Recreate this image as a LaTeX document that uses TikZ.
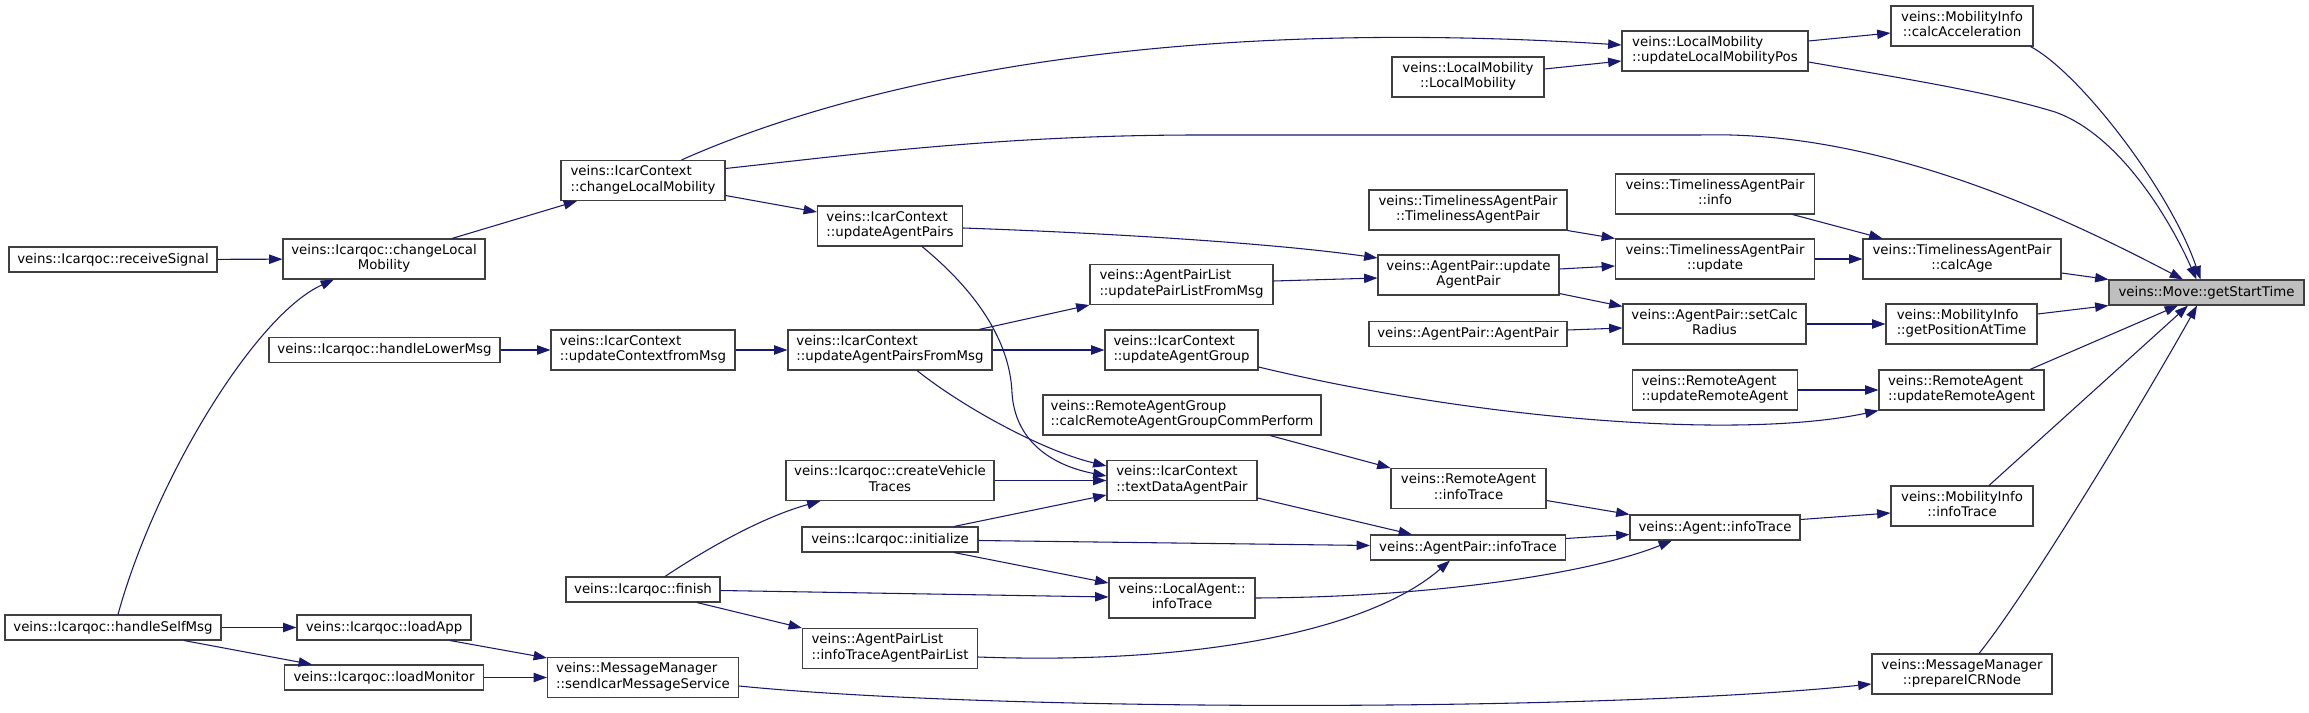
\documentclass[tikz,border=0pt]{standalone}
\usepackage{fontspec}
\newfontfamily\dvs{DejaVu Sans}
\usetikzlibrary{arrows.meta,calc}
\definecolor{edgeblue}{HTML}{191970}
\definecolor{boxgray}{HTML}{404040}
\definecolor{rootfill}{HTML}{BFBFBF}
\newcommand\Ctr[1]{\begin{tabular}{@{}c@{}}#1\end{tabular}}
\newcommand\Lft[1]{\begin{tabular}{@{}l@{}}#1\end{tabular}}
\begin{document}
\begin{tikzpicture}[x=0.75pt,y=-0.75pt,
  box/.style={draw=boxgray, line width=0.8pt, fill=white, inner sep=1pt,
    font=\dvs\fontsize{10pt}{11.5pt}\selectfont, minimum height=18.75pt},
  two/.style={minimum height=30pt},
  root/.style={fill=rootfill},
  edge/.style={draw=edgeblue, line width=0.8pt, -{Triangle[length=10pt,width=7pt]}}]
\useasboundingbox (0,0) rectangle (2309,713);
\fill[white] (0,0) rectangle (2309,713);

% column 1
\node[box, minimum width=156pt] (rs) at (113,259.5) {veins::Icarqoc::receiveSignal};
\node[box, minimum width=162pt] (hsm) at (113,627.5) {veins::Icarqoc::handleSelfMsg};
% column 2
\node[box, two, minimum width=151.5pt] (clmQ) at (384,259) {\Ctr{veins::Icarqoc::changeLocal\\Mobility}};
\node[box, minimum width=173.25pt] (hlm) at (384.5,350) {veins::Icarqoc::handleLowerMsg};
\node[box, minimum width=130.5pt] (la) at (384,627.5) {veins::Icarqoc::loadApp};
\node[box, minimum width=149.25pt] (lm) at (384,677.5) {veins::Icarqoc::loadMonitor};
% column 3
\node[box, two, minimum width=123pt] (clmC) at (643,180.5) {\Lft{veins::IcarContext\\::changeLocalMobility}};
\node[box, two, minimum width=138pt] (ucm) at (643,350) {\Lft{veins::IcarContext\\::updateContextfromMsg}};
\node[box, minimum width=115.5pt] (fin) at (643,589.5) {veins::Icarqoc::finish};
\node[box, two, minimum width=143.25pt] (sims) at (643,677.5) {\Lft{veins::MessageManager\\::sendIcarMessageService}};
% column 4
\node[box, two, minimum width=108.75pt] (uaps) at (890,226) {\Lft{veins::IcarContext\\::updateAgentPairs}};
\node[box, two, minimum width=153pt] (uapfm) at (890,350) {\Lft{veins::IcarContext\\::updateAgentPairsFromMsg}};
\node[box, two, minimum width=156pt] (cvt) at (890,480.5) {\Ctr{veins::Icarqoc::createVehicle\\Traces}};
\node[box, minimum width=132pt] (init) at (890,539.5) {veins::Icarqoc::initialize};
\node[box, two, minimum width=131.25pt] (itapl) at (890,648.5) {\Lft{veins::AgentPairList\\::infoTraceAgentPairList}};
% column 5
\node[box, two, minimum width=137.25pt] (uplm) at (1181.5,284.5) {\Lft{veins::AgentPairList\\::updatePairListFromMsg}};
\node[box, two, minimum width=114.75pt] (uag) at (1181.5,350) {\Lft{veins::IcarContext\\::updateAgentGroup}};
\node[box, two, minimum width=208.5pt] (raccp) at (1182,415) {\Lft{veins::RemoteAgentGroup\\::calcRemoteAgentGroupCommPerform}};
\node[box, two, minimum width=112.5pt] (tdap) at (1182,480.5) {\Lft{veins::IcarContext\\::textDataAgentPair}};
\node[box, two, minimum width=109.5pt] (lait) at (1182,598) {\Ctr{veins::LocalAgent::\\infoTrace}};
% column 6
\node[box, two, minimum width=114pt] (llm) at (1468,77) {\Ctr{veins::LocalMobility\\::LocalMobility}};
\node[box, two, minimum width=148.5pt] (tapc) at (1468,210) {\Ctr{veins::TimelinessAgentPair\\::TimelinessAgentPair}};
\node[box, two, minimum width=135.75pt] (uap) at (1468.5,275) {\Ctr{veins::AgentPair::update\\AgentPair}};
\node[box, minimum width=148.5pt] (apap) at (1468,334) {veins::AgentPair::AgentPair};
\node[box, two, minimum width=116.25pt] (rait) at (1468.5,488.5) {\Ctr{veins::RemoteAgent\\::infoTrace}};
\node[box, minimum width=146.25pt] (apit) at (1468,547.5) {veins::AgentPair::infoTrace};
% column 7
\node[box, two, minimum width=139.5pt] (ulmp) at (1715,51) {\Lft{veins::LocalMobility\\::updateLocalMobilityPos}};
\node[box, two, minimum width=149.25pt] (tapi) at (1715,194) {\Ctr{veins::TimelinessAgentPair\\::info}};
\node[box, two, minimum width=149.25pt] (tapu) at (1715,259) {\Ctr{veins::TimelinessAgentPair\\::update}};
\node[box, two, minimum width=137.25pt] (scr) at (1714.5,324) {\Ctr{veins::AgentPair::setCalc\\Radius}};
\node[box, two, minimum width=123.75pt] (urar1) at (1715,390) {\Lft{veins::RemoteAgent\\::updateRemoteAgent}};
\node[box, minimum width=127.5pt] (ait) at (1715,527.5) {veins::Agent::infoTrace};
% column 8
\node[box, two, minimum width=106.5pt] (ca) at (1962,26) {\Ctr{veins::MobilityInfo\\::calcAcceleration}};
\node[box, two, minimum width=148.5pt] (cage) at (1962,259) {\Ctr{veins::TimelinessAgentPair\\::calcAge}};
\node[box, two, minimum width=113.25pt] (gpat) at (1961.5,324) {\Lft{veins::MobilityInfo\\::getPositionAtTime}};
\node[box, two, minimum width=123.75pt] (urar2) at (1961.5,390) {\Lft{veins::RemoteAgent\\::updateRemoteAgent}};
\node[box, two, minimum width=106.5pt] (mit) at (1962,506) {\Ctr{veins::MobilityInfo\\::infoTrace}};
\node[box, two, minimum width=135pt] (picr) at (1962,674) {\Ctr{veins::MessageManager\\::prepareICRNode}};
% column 9
\node[box, root, minimum width=146.25pt] (gst) at (2206.5,292.5) {veins::Move::getStartTime};

% edges
\draw[edge] (rs) -- (clmQ);
\draw[edge] ($(hsm.north)+(5,0)$) .. controls (155,480) and (255,315) .. ($(clmQ.south)+(-50,0)$);
\draw[edge] ($(clmQ.north)+(68,0)$) -- ($(clmC.south)+(-66,0)$);
\draw[edge] ($(clmC.north)+(38.5,0)$) .. controls (850,85) and (1150,15) .. ($(ulmp.west)+(0,-6)$);
\draw[edge] ($(clmC.east)+(0,-12)$) .. controls (850,155) and (1000,135) .. (1200,135) -- (1700,135) .. controls (1880,130) and (2060,215) .. ($(gst.north)+(-23.5,0)$);
\draw[edge] ($(clmC.east)+(0,15)$) -- ($(uaps.west)+(0,-14)$);
\draw[edge] ($(llm.east)+(0,-8)$) -- ($(ulmp.west)+(0,10)$);
\draw[edge] ($(ulmp.east)+(0,-10)$) -- ($(ca.west)+(0,7)$);
\draw[edge] ($(ulmp.east)+(0,11)$) .. controls (1900,78) and (1990,92) .. (2055,112) .. controls (2120,135) and (2170,220) .. ($(gst.north)+(-10,0)$);
\draw[edge] ($(ca.south east)+(-3,0)$) .. controls (2080,73) and (2170,190) .. ($(gst.north)+(-6,0)$);
\draw[edge] ($(uaps.east)+(0,2)$) .. controls (1050,231) and (1250,240) .. ($(uap.west)+(0,-17)$);
\draw[edge] ($(uaps.south)+(32,0)$) .. controls (975,290) and (1010,340) .. (1012,393) .. controls (1015,440) and (1050,465) .. ($(tdap.west)+(0,-4.5)$);
\draw[edge] ($(uplm.east)+(0,-3.5)$) -- ($(uap.west)+(0,3)$);
\draw[edge] ($(uapfm.north)+(89,0)$) -- (uplm.south west);
\draw[edge] (uapfm) -- (uag);
\draw[edge] ($(uapfm.south)+(27,0)$) .. controls (960,405) and (1040,450) .. ($(tdap.west)+(0,-14.5)$);
\draw[edge] (ucm) -- (uapfm);
\draw[edge] (hlm) -- (ucm);
\draw[edge] ($(uag.east)+(0,17)$) .. controls (1480,420) and (1740,440) .. (urar2.south west);
\draw[edge] (tapc.south east) -- (tapu.north west);
\draw[edge] ($(uap.east)+(0,-6)$) -- ($(tapu.west)+(0,7)$);
\draw[edge] ($(uap.south east)+(0,-2)$) -- ($(scr.north west)+(0,3)$);
\draw[edge] ($(apap.east)+(0,-4)$) -- ($(scr.west)+(0,4)$);
\draw[edge] ($(tapi.south)+(77.6,0)$) -- ($(cage.north west)+(20,0)$);
\draw[edge] (tapu) -- (cage);
\draw[edge] ($(cage.east)+(0,14)$) -- (gst.north west);
\draw[edge] (scr) -- (gpat);
\draw[edge] ($(gpat.east)+(0,-10)$) -- (gst.south west);
\draw[edge] (urar1) -- (urar2);
\draw[edge] ($(urar2.north)+(68.5,0)$) -- ($(gst.south)+(-28.5,0)$);
\draw[edge] ($(mit.north)+(27,0)$) -- ($(gst.south)+(-18.5,0)$);
\draw[edge] ($(picr.north)+(17,0)$) .. controls (2030,590) and (2150,390) .. ($(gst.south)+(-9.5,0)$);
\draw[edge] ($(raccp.south)+(88,0)$) -- (rait.north west);
\draw[edge] ($(rait.east)+(0,12)$) -- (ait.north west);
\draw[edge] ($(apit.east)+(0,-9)$) -- ($(ait.west)+(0,7)$);
\draw[edge] (lait.east) .. controls (1450,597) and (1600,570) .. ($(ait.south)+(-43,0)$);
\draw[edge] ($(ait.east)+(0,-8)$) -- ($(mit.west)+(0,7)$);
\draw[edge] ($(tdap.east)+(0,17.5)$) -- ($(apit.north)+(-56,0)$);
\draw[edge] (cvt) -- (tdap);
\draw[edge] ($(init.north)+(64,0)$) -- ($(tdap.west)+(0,14.5)$);
\draw[edge] ($(init.east)+(0,1)$) -- ($(apit.west)+(0,-2)$);
\draw[edge] ($(init.south)+(64,0)$) -- ($(lait.west)+(0,-15)$);
\draw[edge] ($(fin.north)+(22,0)$) .. controls (720,540) and (770,515) .. ($(cvt.south west)+(35,0)$);
\draw[edge] ($(fin.east)+(0,1)$) -- ($(lait.west)+(0,-1)$);
\draw[edge] ($(fin.south)+(54,0)$) -- (itapl.north west);
\draw[edge] ($(itapl.east)+(0,8.5)$) .. controls (1200,665) and (1370,630) .. ($(apit.south)+(-18,0)$);
\draw[edge] (hsm) -- (la);
\draw[edge] ($(hsm.south)+(71,0)$) -- ($(lm.north west)+(28,0)$);
\draw[edge] ($(la.south)+(66,0)$) -- ($(sims.north west)+(0,1)$);
\draw[edge] (lm) -- (sims);
\draw[edge] ($(sims.east)+(0,8.5)$) .. controls (1000,712) and (1600,712) .. ($(picr.west)+(0,10)$);
\end{tikzpicture}
\end{document}
